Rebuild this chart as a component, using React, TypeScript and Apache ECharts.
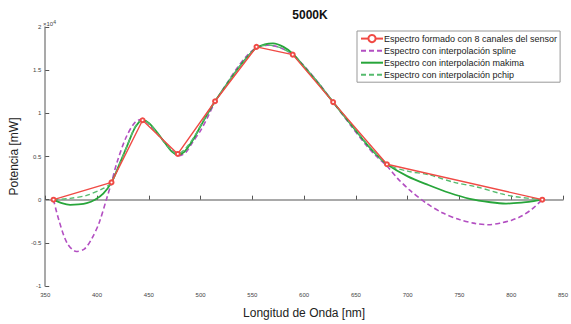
import React, { useEffect, useRef } from "react";
import * as echarts from "echarts";

const xTicks = [350, 400, 450, 500, 550, 600, 650, 700, 750, 800, 850];
const yTicks = [-1, -0.5, 0, 0.5, 1, 1.5, 2];

const sensorX = [358, 414, 444, 478, 514, 554, 589, 628, 680, 830];
const sensorY = [0, 0.2, 0.92, 0.53, 1.14, 1.77, 1.68, 1.13, 0.41, 0];

const splineX = [358, 363, 371, 380, 388, 395, 402, 409, 414, 419, 428, 437, 444, 452, 460, 470, 479, 486, 492, 500, 507, 514, 525, 535, 545, 554, 565, 577, 589, 600, 614, 628, 645, 660, 670, 680, 690, 702, 718, 734, 750, 765, 778, 790, 800, 810, 820, 830];
const splineY = [0, -0.23, -0.5, -0.6, -0.57, -0.45, -0.27, 0.0, 0.2, 0.42, 0.72, 0.9, 0.93, 0.85, 0.74, 0.6, 0.51, 0.55, 0.66, 0.8, 0.96, 1.13, 1.34, 1.52, 1.67, 1.76, 1.79, 1.76, 1.68, 1.55, 1.35, 1.13, 0.86, 0.63, 0.5, 0.39, 0.25, 0.11, -0.04, -0.155, -0.23, -0.275, -0.29, -0.27, -0.24, -0.19, -0.11, 0];

const makimaX = [358, 366, 374, 382, 390, 398, 406, 414, 422, 430, 437, 444, 450, 458, 466, 472, 478, 484, 492, 500, 507, 514, 525, 535, 545, 554, 562, 570, 580, 589, 600, 610, 620, 628, 640, 650, 660, 670, 680, 700, 720, 740, 760, 780, 795, 810, 820, 830];
const makimaY = [0, -0.04, -0.06, -0.055, -0.04, 0.0, 0.07, 0.2, 0.42, 0.65, 0.84, 0.92, 0.89, 0.78, 0.65, 0.56, 0.52, 0.55, 0.68, 0.85, 1.0, 1.14, 1.33, 1.5, 1.65, 1.76, 1.8, 1.81, 1.77, 1.69, 1.54, 1.4, 1.25, 1.13, 0.95, 0.8, 0.65, 0.52, 0.41, 0.27, 0.17, 0.08, 0.01, -0.03, -0.045, -0.035, -0.02, 0];

const pchipX = [358, 374, 390, 406, 414, 422, 430, 437, 444, 452, 460, 468, 478, 486, 495, 505, 514, 525, 535, 545, 554, 565, 577, 589, 600, 614, 628, 645, 660, 680, 700, 720, 745, 766, 790, 804, 830];
const pchipY = [0, 0.015, 0.05, 0.13, 0.2, 0.42, 0.65, 0.85, 0.92, 0.86, 0.74, 0.62, 0.53, 0.6, 0.75, 0.97, 1.14, 1.33, 1.5, 1.65, 1.76, 1.79, 1.76, 1.68, 1.54, 1.35, 1.13, 0.88, 0.66, 0.41, 0.33, 0.29, 0.2, 0.15, 0.07, 0.034, 0];

const names = [
  "Espectro formado con 8 canales del sensor",
  "Espectro con interpolación spline",
  "Espectro con interpolación makima",
  "Espectro con interpolación pchip",
];

const pair = (xs: number[], ys: number[]) => xs.map((x, i) => [x, ys[i]]);

const FONT = "Liberation Sans";
const AXIS_COLOR = "#8c8c8c";

export default function App() {
  const ref = useRef<HTMLDivElement>(null);
  useEffect(() => {
    if (!ref.current) return;
    const chart = echarts.init(ref.current, null, { renderer: "svg" });
    chart.setOption({
      animation: false,
      backgroundColor: "#ffffff",
      textStyle: { fontFamily: FONT },
      title: {
        text: "5000K",
        left: 305,
        top: 4,
        textAlign: "center",
        textStyle: { fontSize: 12, fontWeight: "bold", color: "#111", fontFamily: FONT },
      },
      grid: { left: 41, right: 2, top: 27, bottom: 33, containLabel: false },
      legend: {
        data: [
          { name: names[0], itemStyle: { color: "#f04a45", borderColor: "#f04a45" } },
          { name: names[1], itemStyle: { opacity: 0 } },
          { name: names[2], itemStyle: { opacity: 0 } },
          { name: names[3], itemStyle: { opacity: 0 } },
        ],
        orient: "vertical",
        left: 357,
        top: 31,
        padding: [3, 3, 3, 3],
        itemWidth: 22,
        itemHeight: 9,
        itemGap: 3,
        borderColor: "#999",
        borderWidth: 1,
        backgroundColor: "#fff",
        borderRadius: 0,
        textStyle: { fontSize: 9, color: "#222", fontFamily: FONT, padding: [0, 0, 0, -4] },
      },
      xAxis: {
        type: "value",
        min: xTicks[0],
        max: xTicks[xTicks.length - 1],
        interval: 50,
        name: "Longitud de Onda [nm]",
        nameLocation: "middle",
        nameGap: 21,
        nameTextStyle: { fontSize: 12, color: "#222", fontFamily: FONT },
        axisLine: { show: true, lineStyle: { color: AXIS_COLOR, width: 1.5 } },
        axisTick: { show: true, inside: true, length: 4, lineStyle: { color: "#555" } },
        axisLabel: { fontSize: 6, color: "#444", margin: 6 },
        splitLine: { show: false },
      },
      yAxis: {
        type: "value",
        min: yTicks[0],
        max: yTicks[yTicks.length - 1],
        interval: 0.5,
        name: "Potencia [mW]",
        nameLocation: "middle",
        nameGap: 24,
        nameTextStyle: { fontSize: 12, color: "#222", fontFamily: FONT },
        axisLine: { show: true, lineStyle: { color: AXIS_COLOR, width: 1.5 } },
        axisTick: { show: true, inside: true, length: 4, lineStyle: { color: "#555" } },
        axisLabel: { fontSize: 6, color: "#444", margin: 4 },
        splitLine: { show: false },
      },
      graphic: [
        {
          type: "text",
          left: 43,
          top: 19,
          style: {
            text: "{a|×10}{b|4}",
            rich: {
              a: { fontSize: 6, fill: "#444", fontFamily: FONT },
              b: { fontSize: 5, fill: "#444", fontFamily: FONT, verticalAlign: "top", padding: [0, 0, 4, 0] },
            },
          },
        },
      ],
      series: [
        {
          name: names[1],
          type: "line",
          data: pair(splineX, splineY),
          showSymbol: false,
          symbol: "none",
          smooth: 0.3,
          z: 2,
          lineStyle: { color: "#b34fc2", width: 1.6, type: [5, 3] },
          itemStyle: { color: "#b34fc2" },
        },
        {
          name: names[2],
          type: "line",
          data: pair(makimaX, makimaY),
          showSymbol: false,
          symbol: "none",
          smooth: 0.3,
          z: 3,
          lineStyle: { color: "#27a53a", width: 1.8 },
          itemStyle: { color: "#27a53a" },
        },
        {
          name: names[3],
          type: "line",
          data: pair(pchipX, pchipY),
          showSymbol: false,
          symbol: "none",
          smooth: 0.3,
          z: 3,
          lineStyle: { color: "#55bb6e", width: 1.4, type: [5, 3] },
          itemStyle: { color: "#55bb6e" },
        },
        {
          name: names[0],
          type: "line",
          data: pair(sensorX, sensorY),
          symbol: "emptyCircle",
          symbolSize: 4,
          z: 5,
          lineStyle: { color: "#f04a45", width: 1.4 },
          itemStyle: { color: "#f04a45", borderWidth: 1 },
        },
      ],
    });
    return () => chart.dispose();
  }, []);
  return <div ref={ref} style={{ position: "fixed", left: 0, top: 0, width: 571, height: 324 }} />;
}
